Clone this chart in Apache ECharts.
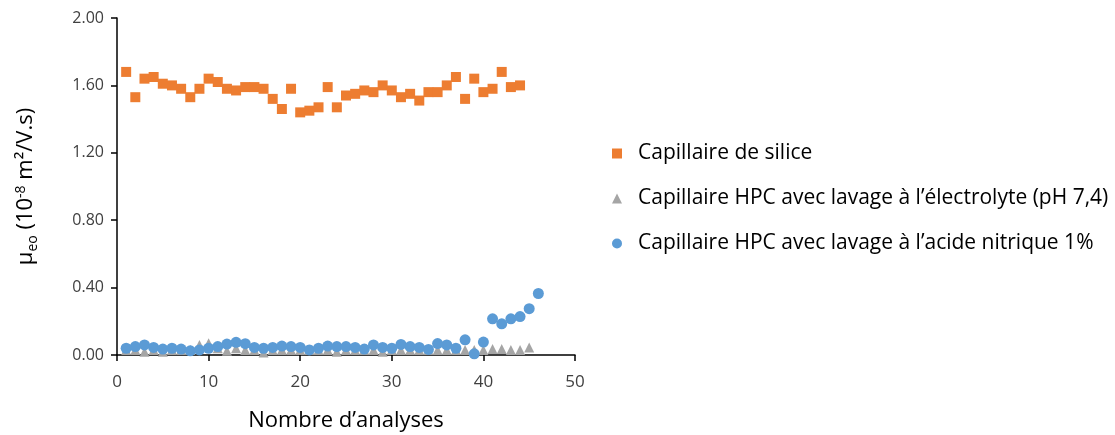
<!DOCTYPE html>
<html>
<head>
<meta charset="utf-8">
<script src="https://cdn.jsdelivr.net/npm/echarts@6/dist/echarts.min.js"></script>
<style>html,body{margin:0;padding:0;background:#fff;}#c{width:1115px;height:435px;}</style>
</head>
<body>
<div id="c"></div>
<script>
const seriesNames = [
  "Capillaire de silice",
  "Capillaire HPC avec lavage à l\u2019électrolyte (pH 7,4)",
  "Capillaire HPC avec lavage à l\u2019acide nitrique 1%"
];
const silice = [1.68,1.53,1.64,1.65,1.61,1.60,1.58,1.53,1.58,1.64,1.62,1.58,1.57,1.59,1.59,1.58,1.52,1.46,1.58,1.44,1.45,1.47,1.59,1.47,1.54,1.55,1.57,1.56,1.60,1.57,1.53,1.55,1.51,1.56,1.56,1.60,1.65,1.52,1.64,1.56,1.58,1.68,1.59,1.60];
const electrolyte = [0.03,0.03,0.02,0.03,0.02,0.03,0.03,0.03,0.06,0.07,0.04,0.025,0.04,0.03,0.03,0.015,0.03,0.03,0.03,0.03,0.03,0.03,0.03,0.02,0.03,0.03,0.03,0.03,0.02,0.03,0.03,0.03,0.03,0.03,0.03,0.03,0.03,0.03,0.03,0.03,0.035,0.035,0.03,0.03,0.045];
const nitrique = [0.04,0.05,0.06,0.045,0.035,0.04,0.035,0.025,0.03,0.04,0.05,0.065,0.075,0.067,0.045,0.04,0.045,0.053,0.05,0.045,0.03,0.04,0.053,0.05,0.05,0.045,0.035,0.06,0.045,0.04,0.063,0.05,0.045,0.033,0.068,0.06,0.04,0.09,0.007,0.077,0.215,0.185,0.215,0.228,0.275,0.365];
const xTicks = [0,10,20,30,40,50];
const yTicks = [0,0.4,0.8,1.2,1.6,2.0];

function pairs(arr){ return arr.map((v,i)=>[i+1,v]); }

const chart = echarts.init(document.getElementById('c'));
const font = "'Open Sans', 'Liberation Sans', sans-serif";
chart.setOption({
  animation:false,
  textStyle:{fontFamily:font},
  grid:{left:117,right:540,top:18,bottom:80,containLabel:false,outerBoundsMode:'none'},
  xAxis:{
    type:'value', min:xTicks[0], max:xTicks[xTicks.length-1], interval:10,
    axisLine:{show:true,lineStyle:{color:'#000',width:1.5}},
    axisTick:{show:true,length:6,lineStyle:{color:'#000',width:1.5}},
    splitLine:{show:false},
    axisLabel:{color:'#404040',fontSize:17,margin:19,fontFamily:font},
    name:'Nombre d\u2019analyses', nameLocation:'middle', nameGap:55,
    nameTextStyle:{color:'#000',fontSize:22,fontFamily:font}
  },
  yAxis:{
    type:'value', min:yTicks[0], max:yTicks[yTicks.length-1], interval:0.4,
    axisLine:{show:true,lineStyle:{color:'#000',width:1.5}},
    axisTick:{show:true,length:6,lineStyle:{color:'#000',width:1.5}},
    splitLine:{show:false},
    axisLabel:{color:'#404040',fontSize:16,margin:13,fontFamily:font,formatter:v=>v.toFixed(2)},
    name:'{n|\u03bc}{sub|eo}{n| (10}{sup|-8}{n| m\u00b2/V.s)}', nameLocation:'middle', nameGap:74,
    nameTextStyle:{
      color:'#000',fontSize:22,fontFamily:font,
      rich:{
        n:{fontSize:22,color:'#000',fontFamily:font,lineHeight:34,verticalAlign:'middle'},
        sub:{fontSize:14,color:'#000',fontFamily:font,lineHeight:34,verticalAlign:'bottom',padding:[0,0,3,0]},
        sup:{fontSize:14,color:'#000',fontFamily:font,lineHeight:34,verticalAlign:'top',padding:[5,0,0,0]}
      }
    }
  },
  legend:{
    orient:'vertical', left:607, top:138, itemGap:24, itemWidth:10, itemHeight:10,
    textStyle:{fontSize:21,color:'#000',fontFamily:font,padding:[0,0,0,11]},
    data:[
      {name:seriesNames[0],icon:'rect',itemStyle:{color:'#ED7D31'}},
      {name:seriesNames[1],icon:'triangle',itemStyle:{color:'#A5A5A5'}},
      {name:seriesNames[2],icon:'circle',itemStyle:{color:'#5B9BD5'}}
    ]
  },
  series:[
    {name:seriesNames[0],type:'scatter',symbol:'rect',symbolSize:10,itemStyle:{color:'#ED7D31',opacity:1},data:pairs(silice)},
    {name:seriesNames[1],type:'scatter',symbol:'triangle',symbolSize:10,itemStyle:{color:'#A5A5A5',opacity:1},data:pairs(electrolyte)},
    {name:seriesNames[2],type:'scatter',symbol:'circle',symbolSize:11,itemStyle:{color:'#5B9BD5',opacity:1},data:pairs(nitrique)}
  ]
});
</script>
</body>
</html>
